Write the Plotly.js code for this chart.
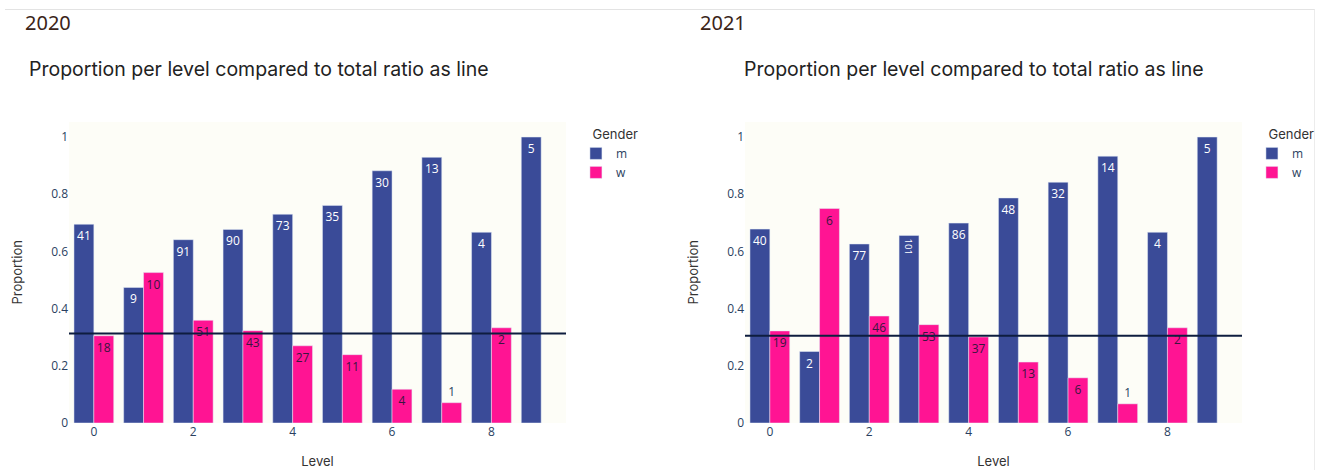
<!DOCTYPE html>
<html>
<head>
<meta charset="utf-8">
<script src="https://cdn.plot.ly/plotly-3.0.1.min.js"></script>
<style>
  html, body { margin: 0; padding: 0; width: 1317px; height: 470px; overflow: hidden; background: #ffffff; }
  #frame { position: absolute; left: 5px; top: 9px; width: 1309px; height: 470px; border-top: 1px solid #e3e3e3; border-right: 1px solid #ececec; }
  .year { position: absolute; top: 9px; font-family: "Noto Sans", "Open Sans", sans-serif; font-size: 20px; color: #3b2418; }
  .chart { position: absolute; top: 40px; width: 660px; height: 445px; }
</style>
</head>
<body>
<div id="frame"></div>
<div class="year" style="left:25px;">2020</div>
<div class="year" style="left:700px;">2021</div>
<div id="c2020" class="chart" style="left:0px;"></div>
<div id="c2021" class="chart" style="left:676px;"></div>
<script>
// ---- data ----
const levels = [0, 1, 2, 3, 4, 5, 6, 7, 8, 9];
const levelsW = [0, 1, 2, 3, 4, 5, 6, 7, 8];

// 2020
const propM2020 = [0.695, 0.474, 0.641, 0.677, 0.730, 0.761, 0.882, 0.929, 0.667, 1.0];
const propW2020 = [0.305, 0.526, 0.359, 0.323, 0.270, 0.239, 0.118, 0.071, 0.333];
const countM2020 = [41, 9, 91, 90, 73, 35, 30, 13, 4, 5];
const countW2020 = [18, 10, 51, 43, 27, 11, 4, 1, 2];
const totalRatio2020 = [0.313];

// 2021
const propM2021 = [0.678, 0.250, 0.626, 0.656, 0.699, 0.787, 0.842, 0.933, 0.667, 1.0];
const propW2021 = [0.322, 0.750, 0.374, 0.344, 0.301, 0.213, 0.158, 0.067, 0.333];
const countM2021 = [40, 2, 77, 101, 86, 48, 32, 14, 4, 5];
const countW2021 = [19, 6, 46, 53, 37, 13, 6, 1, 2];
const totalRatio2021 = [0.305];

const titleText = "Proportion per level compared to total ratio as line";
const genderNames = ["m", "w"];
const legendTitle = "Gender";
const xTitle = "Level";
const yTitle = "Proportion";

// ---- style ----
const colM = "#3A4B98";
const colW = "#FF1493";
const headFont = "Inter, 'Noto Sans', sans-serif";
const W = 660, H = 445;

function makeFig(div, propM, propW, countM, countW, ratio, titleLeftPx) {
  const traces = [
    {
      type: "bar", name: genderNames[0], x: levels, y: propM, text: countM,
      textposition: "auto", marker: { color: colM, line: { color: "#E5ECF6", width: 0.5 } },
      insidetextfont: { color: "#ffffff", size: 12 },
      outsidetextfont: { color: "#2a3f5f", size: 12 }
    },
    {
      type: "bar", name: genderNames[1], x: levelsW, y: propW, text: countW,
      textposition: "auto", marker: { color: colW, line: { color: "#E5ECF6", width: 0.5 } },
      insidetextfont: { color: "#3a1540", size: 12 },
      outsidetextfont: { color: "#2a3f5f", size: 12 }
    }
  ];
  const plotLeft = 69, plotWidth = 497.5, plotTop = 82, plotBottom = 383.5;
  const layout = {
    width: W, height: H,
    margin: { l: plotLeft, r: W - plotLeft - plotWidth, t: plotTop, b: H - plotBottom, pad: 0 },
    paper_bgcolor: "rgba(0,0,0,0)",
    plot_bgcolor: "#fdfdf7",
    font: { family: "'Open Sans', sans-serif", size: 12, color: "#2a3f5f" },
    title: {
      text: titleText, x: titleLeftPx / W, xanchor: "left", xref: "container",
      y: 1 - 29 / H, yanchor: "middle", yref: "container",
      font: { family: headFont, size: 19.5, color: "#222222" }
    },
    barmode: "group",
    bargap: 0.2,
    xaxis: {
      range: [-0.5, 9.5], showgrid: false, zeroline: false, showline: false,
      dtick: 2, tick0: 0, ticks: "",
      title: { text: xTitle, standoff: 17, font: { family: headFont, size: 13, color: "#333333" } }
    },
    yaxis: {
      range: [0, 1.0526], showgrid: false, zeroline: false, showline: false,
      dtick: 0.2, tick0: 0, ticks: ""
    },
    annotations: [{
      text: yTitle, textangle: -90, showarrow: false,
      xref: "paper", x: -(plotLeft - 16) / plotWidth, xanchor: "center",
      yref: "paper", y: 0.5, yanchor: "middle",
      font: { family: headFont, size: 13, color: "#333333" }
    }],
    legend: {
      title: { text: "\u00a0\u00a0\u00a0\u00a0" + legendTitle, font: { family: headFont, size: 13, color: "#333333" } },
      font: { family: "'Open Sans', sans-serif", size: 12, color: "#2a3f5f" },
      x: 1.02, y: 1, xanchor: "left", yanchor: "top", tracegroupgap: 0
    },
    shapes: [{
      type: "line", xref: "paper", x0: 0, x1: 1, yref: "y", y0: ratio[0], y1: ratio[0],
      line: { color: "#0e1d3f", width: 2 }
    }]
  };
  Plotly.newPlot(div, traces, layout, { displayModeBar: false, staticPlot: true });
}

makeFig("c2020", propM2020, propW2020, countM2020, countW2020, totalRatio2020, 29);
makeFig("c2021", propM2021, propW2021, countM2021, countW2021, totalRatio2021, 68);
</script>
</body>
</html>
